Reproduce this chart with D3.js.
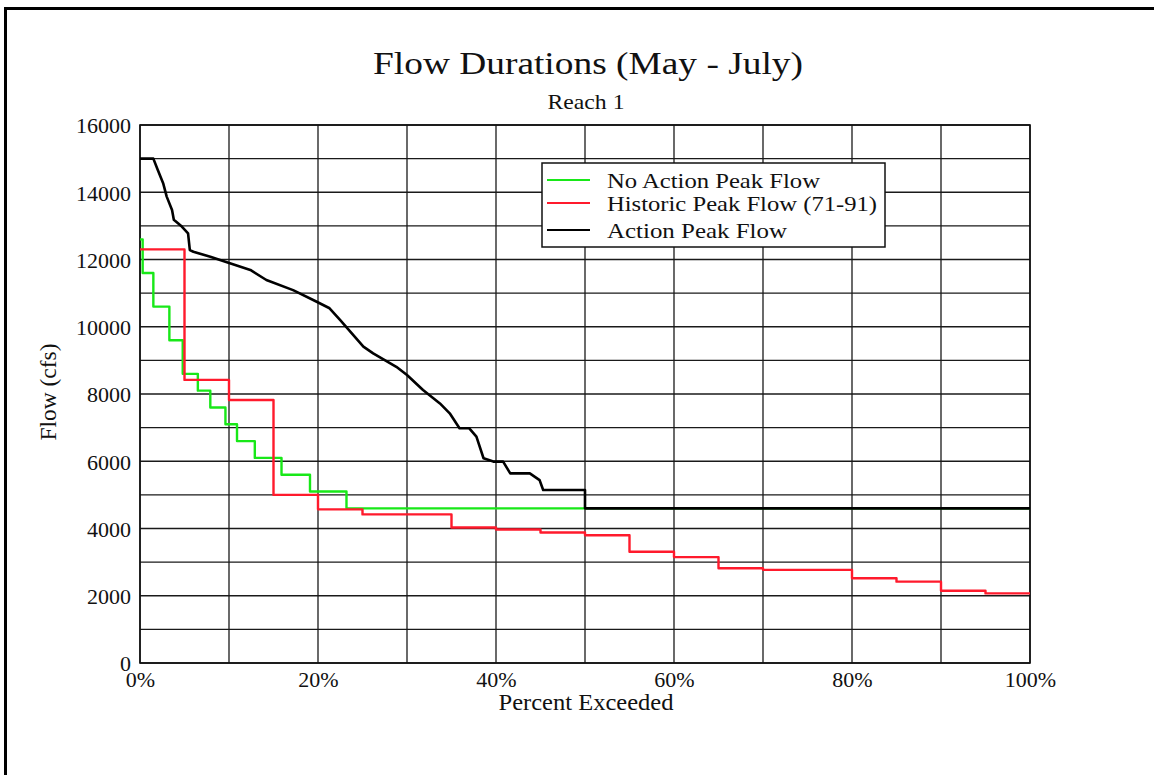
<!DOCTYPE html>
<html>
<head>
<meta charset="utf-8">
<script src="https://cdn.jsdelivr.net/npm/d3@7"></script>
<style>
  html, body { margin: 0; padding: 0; background: #fff; }
  svg { display: block; }
  text { font-family: "Liberation Serif", "Times New Roman", serif; fill: #111; }
</style>
</head>
<body>
<svg id="chart" width="1154" height="775"></svg>
<script>
// Flow-duration curves, Reach 1, May–July
const percentTicks = [0, 20, 40, 60, 80, 100];
const percentGrid = [0, 10, 20, 30, 40, 50, 60, 70, 80, 90, 100];
const flowTicks = [0, 2000, 4000, 6000, 8000, 10000, 12000, 14000, 16000];
const flowGrid = d3.range(0, 16001, 1000);

// No Action Peak Flow (step curve: value holds from each start percent)
const noActionPct  = [0, 0.3, 1.5, 3.3, 4.8, 6.5, 7.9, 9.6, 10.9, 12.9, 15.9, 19.1, 23.2, 100];
const noActionFlow = [12600, 11600, 10600, 9600, 8600, 8100, 7600, 7100, 6600, 6100, 5600, 5100, 4600, 4600];

// Historic Peak Flow (71-91) (step curve)
const historicPct  = [0, 5, 10, 15, 20, 25, 35, 40, 45, 50, 55, 60, 65, 70, 80, 85, 90, 95, 100];
const historicFlow = [12300, 8420, 7820, 5000, 4570, 4420, 4030, 3970, 3880, 3800, 3310, 3150, 2820, 2770, 2520, 2420, 2150, 2070, 2070];

// Action Peak Flow (point-to-point)
const actionPct  = [0, 1.5, 2.0, 2.6, 3.0, 3.6, 3.8, 4.7, 5.4, 5.6, 6.0, 7.9, 10.1, 12.4, 14.2, 17.2, 19.8, 21.3, 22.5, 25.1,
                    26.2, 28.8, 30.0, 31.8, 33.7, 34.8, 35.9, 37.0, 37.8, 38.6, 39.7, 40.8, 41.6, 43.8, 44.9, 45.3, 50.0, 50.0, 100];
const actionFlow = [15000, 15000, 14660, 14270, 13870, 13470, 13180, 12980, 12780, 12280, 12230, 12080, 11890, 11690, 11390, 11090, 10750, 10550, 10200, 9410,
                    9210, 8810, 8565, 8120, 7720, 7425, 6980, 6980, 6730, 6090, 5990, 5990, 5640, 5640, 5440, 5145, 5145, 4600, 4600];

const seriesNames = ["No Action Peak Flow", "Historic Peak Flow (71-91)", "Action Peak Flow"];
const seriesColors = ["#18e818", "#ff1a2c", "#000000"];

const svg = d3.select("#chart");
const x = d3.scaleLinear().domain([0, 100]).range([140, 1030]);
const y = d3.scaleLinear().domain([0, 16000]).range([663, 125]);

// page frame
svg.append("path")
  .attr("d", "M5.5,775V8.5H1154")
  .attr("fill", "none").attr("stroke", "#000").attr("stroke-width", 3);

// titles
svg.append("text")
  .attr("x", 588).attr("y", 74).attr("text-anchor", "middle")
  .attr("font-size", 31)
  .attr("textLength", 430).attr("lengthAdjust", "spacingAndGlyphs")
  .text("Flow Durations (May - July)");
svg.append("text")
  .attr("x", 586).attr("y", 109).attr("text-anchor", "middle")
  .attr("font-size", 22)
  .attr("textLength", 77).attr("lengthAdjust", "spacingAndGlyphs")
  .text("Reach 1");

// grid
const grid = svg.append("g").attr("stroke", "#1a1a1a").attr("stroke-width", 1.3);
grid.selectAll("line.h").data(flowGrid).join("line")
  .attr("class", "h")
  .attr("x1", x(0)).attr("x2", x(100))
  .attr("y1", d => y(d)).attr("y2", d => y(d));
grid.selectAll("line.v").data(percentGrid).join("line")
  .attr("class", "v")
  .attr("y1", y(0)).attr("y2", y(16000))
  .attr("x1", d => x(d)).attr("x2", d => x(d));
svg.append("rect")
  .attr("x", x(0)).attr("y", y(16000))
  .attr("width", x(100) - x(0)).attr("height", y(0) - y(16000))
  .attr("fill", "none").attr("stroke", "#111").attr("stroke-width", 1.6);

// axes labels
const yAxis = d3.axisLeft(y).tickValues(flowTicks).tickSize(0).tickPadding(8).tickFormat(d3.format("d"));
const yg = svg.append("g").attr("transform", `translate(${x(0) - 1},0)`).call(yAxis);
yg.select(".domain").remove();
yg.selectAll("text").attr("font-size", 22).attr("font-family", "Liberation Serif, serif").attr("fill", "#111").attr("dy", "0.36em");

const xAxis = d3.axisBottom(x).tickValues(percentTicks).tickSize(0).tickPadding(8).tickFormat(d => d + "%");
const xg = svg.append("g").attr("transform", `translate(0,${y(0)})`).call(xAxis);
xg.select(".domain").remove();
xg.selectAll("text").attr("font-size", 22).attr("font-family", "Liberation Serif, serif").attr("fill", "#111").attr("dy", "0.72em");

svg.append("text")
  .attr("x", 586).attr("y", 710).attr("text-anchor", "middle")
  .attr("font-size", 23)
  .attr("textLength", 175).attr("lengthAdjust", "spacingAndGlyphs")
  .text("Percent Exceeded");
svg.append("text")
  .attr("transform", "translate(56,392) rotate(-90)")
  .attr("text-anchor", "middle")
  .attr("font-size", 23)
  .attr("textLength", 97).attr("lengthAdjust", "spacingAndGlyphs")
  .text("Flow (cfs)");

// series
const stepLine = d3.line().x(d => x(d[0])).y(d => y(d[1])).curve(d3.curveStepAfter);
const plainLine = d3.line().x(d => x(d[0])).y(d => y(d[1]));

const plot = svg.append("g").attr("fill", "none").attr("stroke-linejoin", "round");
plot.append("path")
  .attr("d", stepLine(d3.zip(noActionPct, noActionFlow)))
  .attr("stroke", seriesColors[0]).attr("stroke-width", 2.4);
plot.append("path")
  .attr("d", stepLine(d3.zip(historicPct, historicFlow)))
  .attr("stroke", seriesColors[1]).attr("stroke-width", 2.4);
plot.append("path")
  .attr("d", plainLine(d3.zip(actionPct, actionFlow)))
  .attr("stroke", seriesColors[2]).attr("stroke-width", 2.6);

// legend
const legend = svg.append("g").attr("transform", "translate(542,163)");
legend.append("rect")
  .attr("width", 343).attr("height", 84)
  .attr("fill", "#fff").attr("stroke", "#111").attr("stroke-width", 1.5);
const legendWidths = [213, 270, 180];
seriesNames.forEach((name, i) => {
  const rowY = [17, 40, 67][i];
  legend.append("line")
    .attr("x1", 5).attr("x2", 48).attr("y1", rowY).attr("y2", rowY)
    .attr("stroke", seriesColors[i]).attr("stroke-width", 2);
  legend.append("text")
    .attr("x", 65).attr("y", rowY + 7.5)
    .attr("font-size", 21)
    .attr("textLength", legendWidths[i]).attr("lengthAdjust", "spacingAndGlyphs")
    .text(name);
});
</script>
</body>
</html>
